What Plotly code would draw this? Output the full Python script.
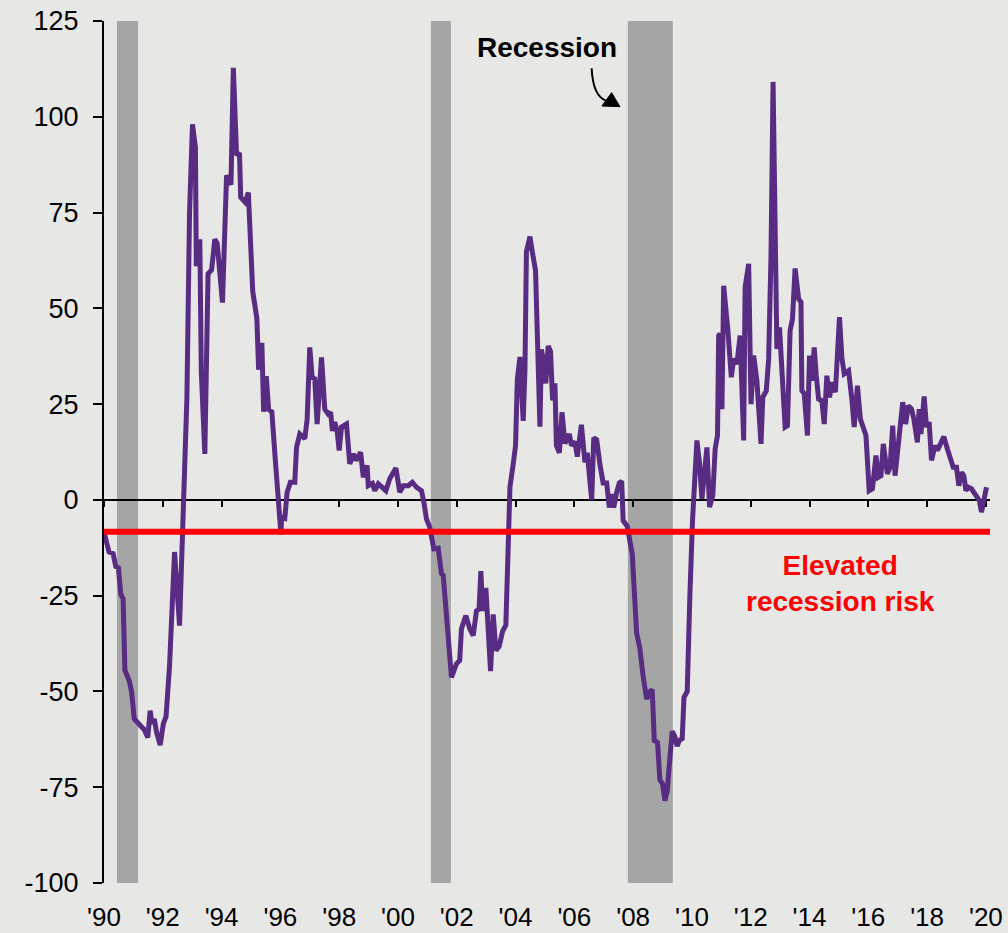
import plotly.graph_objects as go

# ---------------- data ----------------
years = [
    1990.00, 1990.17, 1990.31, 1990.40, 1990.49, 1990.57, 1990.65, 1990.71, 1990.86, 1990.94,
    1991.03, 1991.20, 1991.37, 1991.49, 1991.57, 1991.63, 1991.71, 1991.79, 1991.91, 1992.02,
    1992.11, 1992.23, 1992.40, 1992.57, 1992.71, 1992.82, 1992.91, 1993.01, 1993.11, 1993.14,
    1993.26, 1993.31, 1993.43, 1993.54, 1993.66, 1993.77, 1993.85, 1994.03, 1994.17, 1994.32,
    1994.40, 1994.51, 1994.61, 1994.65, 1994.80, 1994.91, 1995.06, 1995.20, 1995.26, 1995.37,
    1995.43, 1995.52, 1995.60, 1995.71, 1995.83, 1995.92, 1996.02,
    1996.04, 1996.15, 1996.23, 1996.34, 1996.49, 1996.55, 1996.66, 1996.83, 1996.91, 1997.00,
    1997.08, 1997.17, 1997.25, 1997.40, 1997.51, 1997.63, 1997.71, 1997.77, 1997.85, 1997.93,
    1998.00, 1998.08, 1998.25, 1998.36, 1998.48, 1998.57, 1998.73, 1998.82, 1998.95, 1998.99,
    1999.13, 1999.21, 1999.33, 1999.44, 1999.59, 1999.72, 1999.93, 2000.06, 2000.18, 2000.35,
    2000.49, 2000.63, 2000.80, 2000.89, 2000.97, 2001.08, 2001.22, 2001.37, 2001.48, 2001.54,
    2001.65, 2001.82, 2001.99, 2002.10, 2002.16, 2002.31, 2002.44, 2002.56,
    2002.67, 2002.76, 2002.82, 2002.88, 2002.99, 2003.07, 2003.15, 2003.24, 2003.33, 2003.44,
    2003.56, 2003.67, 2003.75, 2003.81, 2003.92, 2004.00, 2004.06, 2004.15, 2004.26, 2004.32,
    2004.37, 2004.49, 2004.58, 2004.68, 2004.83, 2004.88, 2004.96, 2005.03, 2005.11, 2005.19,
    2005.26, 2005.34, 2005.39, 2005.49, 2005.58, 2005.68, 2005.83, 2005.90, 2006.02, 2006.10,
    2006.24, 2006.36, 2006.44, 2006.59, 2006.66, 2006.76, 2006.87, 2006.98, 2007.10, 2007.19,
    2007.27, 2007.34, 2007.44, 2007.53, 2007.61, 2007.66, 2007.80, 2007.89, 2007.97, 2008.12,
    2008.23, 2008.34, 2008.46, 2008.57, 2008.65, 2008.72, 2008.83, 2008.91, 2009.00, 2009.08,
    2009.16, 2009.23, 2009.33, 2009.42, 2009.50, 2009.57, 2009.67, 2009.73, 2009.84, 2009.93,
    2010.02,
    2010.17, 2010.26, 2010.34, 2010.51, 2010.60, 2010.71, 2010.79, 2010.87, 2010.91, 2010.96,
    2011.02, 2011.08, 2011.22, 2011.34, 2011.42, 2011.53, 2011.64, 2011.76, 2011.81, 2011.93,
    2012.01, 2012.10, 2012.21, 2012.35, 2012.41, 2012.53, 2012.61, 2012.69, 2012.76, 2012.83,
    2012.89, 2012.98, 2013.06, 2013.17, 2013.25, 2013.34, 2013.42, 2013.51, 2013.63, 2013.71,
    2013.74, 2013.82, 2013.93, 2014.00, 2014.08, 2014.16, 2014.23, 2014.31, 2014.42, 2014.50,
    2014.59, 2014.68, 2014.77, 2014.88, 2015.02, 2015.10, 2015.18, 2015.33, 2015.44, 2015.52,
    2015.63, 2015.73,
    2015.92, 2016.03, 2016.14, 2016.26, 2016.34, 2016.43, 2016.51, 2016.65, 2016.74, 2016.83,
    2016.91, 2017.02, 2017.17, 2017.27, 2017.36, 2017.47, 2017.55, 2017.67, 2017.73, 2017.79,
    2017.90, 2017.98, 2018.07, 2018.15, 2018.27, 2018.35, 2018.44, 2018.57, 2018.69, 2018.78,
    2018.89, 2019.00, 2019.08, 2019.17, 2019.25, 2019.32, 2019.40, 2019.51, 2019.63, 2019.71,
    2019.78, 2019.85, 2019.93, 2020.02,
]

values = [
    -8.4, -13.6, -14.0, -17.4, -17.7, -24.6, -25.8, -44.4, -47.3, -50.2,
    -57.2, -58.4, -60.0, -62.0, -55.0, -58.4, -57.2, -60.7, -64.0, -58.4,
    -56.6, -43.3, -13.6, -32.8, 0.0, 26.5, 75.0, 98.0, 92.0, 61.0,
    68.0, 33.5, 12.0, 59.0, 60.0, 68.0, 67.0, 51.5, 84.7, 82.3,
    112.8, 90.0, 90.5, 79.0, 77.7, 80.2, 54.4, 47.4, 34.0, 41.0,
    23.0, 32.3, 23.6, 23.0, 10.2, -0.8, -9.0,
    -4.5, -4.8, 2.0, 4.6, 4.6, 13.7, 17.2, 16.0, 21.0, 39.8,
    32.0, 31.6, 19.8, 37.2, 23.7, 22.4, 22.9, 18.0, 20.3, 18.0,
    12.9, 19.0, 19.8, 9.4, 12.0, 10.3, 12.4, 5.9, 9.0, 3.7,
    4.3, 2.4, 4.2, 3.3, 2.4, 5.5, 8.3, 2.0, 3.7, 3.7,
    4.6, 3.3, 2.4, -1.0, -5.0, -7.1, -12.8, -12.6, -19.3, -19.7,
    -31.0, -46.3, -42.8, -41.9, -33.6, -30.2, -33.6, -35.4,
    -29.0, -28.5, -18.6, -29.0, -23.0, -34.8, -44.7, -29.9, -39.3, -38.3,
    -34.3, -32.7, -13.2, 3.4, 9.3, 14.2, 31.4, 37.3, 20.6, 33.9,
    64.8, 68.7, 64.3, 59.9, 19.1, 39.3, 35.8, 30.4, 40.2, 38.8,
    26.0, 30.4, 14.2, 12.3, 22.9, 14.7, 17.2, 14.2, 15.2, 11.3,
    19.6, 9.8, 12.3, 0.0, 16.2, 15.7, 9.3, 4.4, 4.4, -2.0,
    1.5, -2.0, 2.0, 4.4, 4.9, -5.4, -6.9, -10.3, -14.2, -34.8,
    -38.8, -46.1, -52.0, -50.0, -49.6, -62.8, -63.3, -73.1, -74.1, -78.5,
    -76.1, -69.2, -60.4, -61.8, -64.3, -62.8, -62.3, -51.5, -50.0, -25.0,
    -5.4,
    15.5, 9.4, 0.3, 13.7, -1.9, 1.1, 13.3, 16.8, 42.9, 43.3,
    23.7, 55.9, 44.6, 32.0, 36.8, 35.5, 42.9, 15.5, 55.5, 61.6,
    25.0, 37.7, 31.1, 14.6, 26.8, 28.5, 36.8, 63.7, 109.1, 63.7,
    39.4, 45.0, 35.0, 19.0, 19.4, 44.2, 47.2, 60.4, 52.4, 51.6,
    28.5, 27.7, 16.8, 37.7, 31.1, 39.8, 32.4, 26.3, 25.9, 19.8,
    32.4, 26.8, 30.7, 28.1, 47.7, 37.2, 32.9, 33.7, 26.3, 19.0,
    29.8, 21.1,
    16.8, 2.4, 2.9, 11.6, 5.9, 6.3, 14.6, 6.8, 8.5, 19.4,
    6.3, 15.0, 25.5, 19.8, 24.6, 23.7, 21.1, 15.0, 23.7, 17.2,
    27.0, 19.0, 20.3, 10.3, 14.2, 12.9, 14.2, 16.5, 13.3, 11.1,
    8.5, 8.5, 3.7, 7.2, 6.3, 2.4, 3.3, 2.9, 1.6, 1.1,
    -0.2, -3.2, 0.3, 3.3,
]

recession_starts = [1990.44, 2001.12, 2007.82]
recession_ends = [1991.16, 2001.80, 2009.35]
risk_threshold = -8.3

x_ticks = list(range(1990, 2021, 2))
x_tick_labels = ["'90", "'92", "'94", "'96", "'98", "'00", "'02", "'04",
                 "'06", "'08", "'10", "'12", "'14", "'16", "'18", "'20"]
y_ticks = [-100, -75, -50, -25, 0, 25, 50, 75, 100, 125]
y_tick_labels = ["-100", "-75", "-50", "-25", "0", "25", "50", "75", "100", "125"]

X_RANGE = [1990, 2020.14]
Y_RANGE = [-100, 125]

FONT = "Arial, 'Liberation Sans', sans-serif"
BG = "#e7e7e5"
PURPLE = "#582c83"

fig = go.Figure()

fig.add_trace(go.Scatter(
    x=years, y=values, mode="lines",
    line=dict(color=PURPLE, width=5),
    hoverinfo="skip", showlegend=False,
))
# helper trace so the zero-line axis (x2) is rendered
fig.add_trace(go.Scatter(
    x=years[:1], y=values[:1], xaxis="x2", mode="markers",
    marker=dict(opacity=0), hoverinfo="skip", showlegend=False,
))

for s, e in zip(recession_starts, recession_ends):
    fig.add_shape(type="rect", xref="x", yref="y domain", x0=s, x1=e, y0=0, y1=1,
                  fillcolor="#a5a5a5", line_width=0, layer="below")

fig.add_shape(type="line", xref="x domain", yref="y", x0=0, x1=1,
              y0=risk_threshold, y1=risk_threshold,
              line=dict(color="#ff0000", width=6), layer="above")

# curved arrow pointing to recession band
fig.add_shape(type="path", xref="x", yref="y",
              path="M 2006.589,112.66 Q 2006.633,105.17 2007.109,104.12",
              line=dict(color="black", width=2), layer="above")
fig.add_shape(type="path", xref="x", yref="y",
              path="M 2006.939,102.82 L 2007.551,102.64 L 2007.269,106.29 Z",
              fillcolor="black", line=dict(color="black", width=1), layer="above")

fig.add_annotation(x=2005.07, y=118.0, xref="x", yref="y", text="<b>Recession</b>",
                   showarrow=False, font=dict(family=FONT, size=28, color="black"),
                   xanchor="center", yanchor="middle")
fig.add_annotation(x=2015.07, y=-21.9, xref="x", yref="y",
                   text="<b>Elevated<br>recession risk</b>",
                   showarrow=False, font=dict(family=FONT, size=28, color="#ff0000"),
                   xanchor="center", yanchor="middle")

fig.update_layout(
    width=1008, height=933,
    margin=dict(l=104, r=18, t=21, b=50, autoexpand=False),
    paper_bgcolor=BG, plot_bgcolor=BG,
    font=dict(family=FONT, color="black"),
    showlegend=False,
    xaxis=dict(range=X_RANGE, tickvals=x_ticks, ticktext=x_tick_labels,
               showgrid=False, zeroline=False, showline=False, ticks="",
               automargin=False,
               tickfont=dict(family=FONT, size=26, color="black"),
               ticklabelstandoff=16),
    xaxis2=dict(overlaying="x", anchor="free",
                position=(0 - Y_RANGE[0]) / (Y_RANGE[1] - Y_RANGE[0]),
                range=X_RANGE, tickvals=x_ticks, showticklabels=False,
                showline=True, linecolor="black", linewidth=2,
                ticks="outside", ticklen=6, tickwidth=2, tickcolor="black",
                showgrid=False, zeroline=False, layer="below traces",
                automargin=False),
    yaxis=dict(range=Y_RANGE, tickvals=y_ticks, ticktext=y_tick_labels,
               showgrid=False, zeroline=False, automargin=False,
               showline=True, linecolor="black", linewidth=2,
               ticks="outside", ticklen=9, tickwidth=2, tickcolor="black",
               tickfont=dict(family=FONT, size=27, color="black"),
               ticklabelstandoff=9),
)

fig.write_html(
    "out.html",
    config={"displayModeBar": False},
    post_script="document.body.style.margin='0';document.body.style.background='" + BG + "';",
)
